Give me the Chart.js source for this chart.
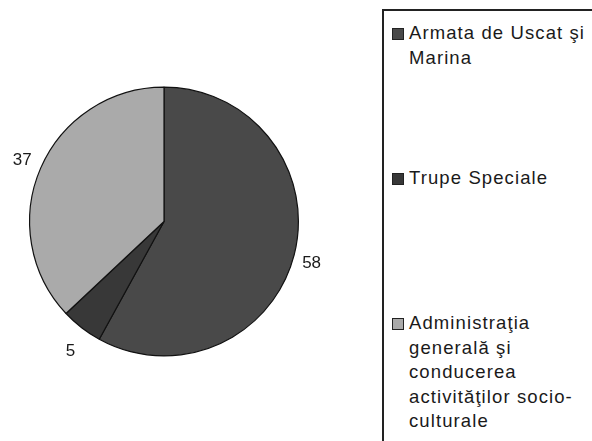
<!DOCTYPE html>
<html>
<head>
<meta charset="utf-8">
<script src="https://cdn.jsdelivr.net/npm/chart.js@4/dist/chart.umd.min.js"></script>
<style>
    body { margin: 0; background: #fff; width: 592px; height: 441px; overflow: hidden; position: relative; font-family: "Liberation Sans", Arial, sans-serif; }
    #wrap { position: absolute; left: 0; top: 0; width: 330px; height: 441px; }
    #legend { position: absolute; left: 382px; top: 9px; width: 230px; height: 450px; border: 2px solid #222; box-sizing: border-box; }
    .item { position: absolute; left: 8px; font-size: 18.5px; line-height: 24.5px; color: #1a1a1a; letter-spacing: 1.1px; white-space: nowrap; }
    .sw { position: absolute; left: 0; top: 7px; width: 10px; height: 10px; border: 1px solid #222; }
    .txt { margin-left: 17px; }
</style>
</head>
<body>
<div id="wrap"><canvas id="pie"></canvas></div>
<div id="legend"></div>
<script>
const categories = ["Armata de Uscat şi Marina", "Trupe Speciale", "Administraţia generală şi conducerea activităţilor socio-culturale"];
const legendLines = [["Armata de Uscat şi", "Marina"], ["Trupe Speciale"], ["Administraţia", "generală şi", "conducerea", "activităţilor socio-", "culturale"]];
const values = [58, 5, 37];
const colors = ["#494949", "#383838", "#aaaaaa"];

// legend positions (top of first line), like in the scan
const legendTops = [10, 155, 300];
const legend = document.getElementById("legend");
legendLines.forEach((lines, i) => {
    const div = document.createElement("div");
    div.className = "item";
    div.style.top = legendTops[i] + "px";
    div.innerHTML = '<span class="sw" style="background:' + colors[i] + '"></span><div class="txt">' + lines.join("<br>") + '</div>';
    legend.appendChild(div);
});

// value labels outside the slices
const outsideLabels = {
    id: "outsideLabels",
    afterDatasetsDraw(chart) {
        const ctx = chart.ctx;
        const meta = chart.getDatasetMeta(0);
        ctx.save();
        ctx.font = "17px 'Liberation Sans', Arial, sans-serif";
        ctx.fillStyle = "#1a1a1a";
        ctx.textAlign = "center";
        ctx.textBaseline = "middle";
        meta.data.forEach((arc, i) => {
            const mid = (arc.startAngle + arc.endAngle) / 2;
            const r = arc.outerRadius + 18;
            let x = arc.x + Math.cos(mid) * r;
            let y = arc.y + Math.sin(mid) * r;
            if (i === 0) y += 4;
            if (i === 2) { y -= 1; x -= 2; }
            if (i === 1) y += 9;
            ctx.fillText(String(chart.data.datasets[0].data[i]), x, y);
        });
        ctx.restore();
    }
};

new Chart(document.getElementById("pie"), {
    type: "pie",
    data: {
        labels: categories,
        datasets: [{
            data: values,
            backgroundColor: colors,
            borderColor: "#111",
            borderWidth: 1.2
        }]
    },
    options: {
        responsive: true,
        maintainAspectRatio: false,
        animation: false,
        layout: { padding: { left: 29, right: 31, top: 86, bottom: 84 } },
        plugins: {
            legend: { display: false },
            tooltip: { enabled: false }
        }
    },
    plugins: [outsideLabels]
});
</script>
</body>
</html>
